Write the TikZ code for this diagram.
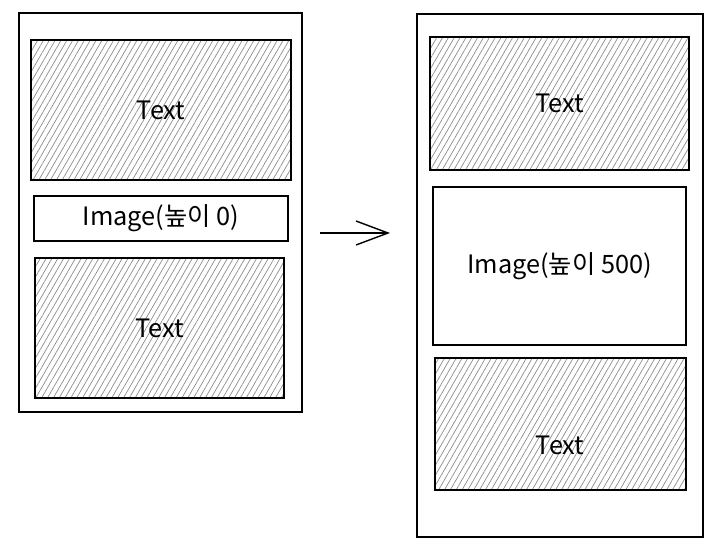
\documentclass[tikz,border=0pt]{standalone}
\usepackage{fontspec}
\setmainfont{Noto Sans CJK KR}
\usetikzlibrary{arrows.meta,patterns.meta,positioning}

\tikzset{
  box/.style={draw, line width=1.1pt, rectangle, inner sep=0pt},
  hatchbox/.style={box, pattern={Lines[angle=60,distance=3.6pt,line width=0.5pt]}, pattern color=black!45},
  lbl/.style={font=\fontsize{18}{20}\selectfont}
}

\begin{document}
\begin{tikzpicture}[x=0.025cm, y=-0.025cm]
\useasboundingbox (0,0) rectangle (720,551);

% before
\node [box, minimum width=7.075cm, minimum height=9.975cm] (lframe) at (160.5, 212.5) {};
\node [hatchbox, lbl, minimum width=6.5cm, minimum height=3.5cm] (ltop) at (161, 110) {Text};
\node [box, lbl, minimum width=6.35cm, minimum height=1.125cm] (limg) at (161, 218.5) {Image(높이 0)};
\node [hatchbox, lbl, minimum width=6.225cm, minimum height=3.5cm] (lbot) at (159.5, 328) {Text};

% after
\node [box, minimum width=7.15cm, minimum height=13.075cm] (rframe) at (560, 275.5) {};
\node [hatchbox, lbl, minimum width=6.475cm, minimum height=3.325cm] (rtop) at (559.5, 103.5) {Text};
\node [box, lbl, minimum width=6.325cm, minimum height=3.95cm] (rimg) at (559.5, 266) {Image(높이 500)};
\node [hatchbox, minimum width=6.275cm, minimum height=3.3cm] (rbot) at (560.5, 424) {};
\node [lbl] (rbottext) at (560, 445) {Text};

\coordinate (a_from) at (320, 233);
\coordinate (a_to) at (390, 233);
\draw [line width=1pt, -{Straight Barb[length=0.8cm, width=0.6cm, line width=1pt]}] (a_from) -- (a_to);
\end{tikzpicture}
\end{document}
